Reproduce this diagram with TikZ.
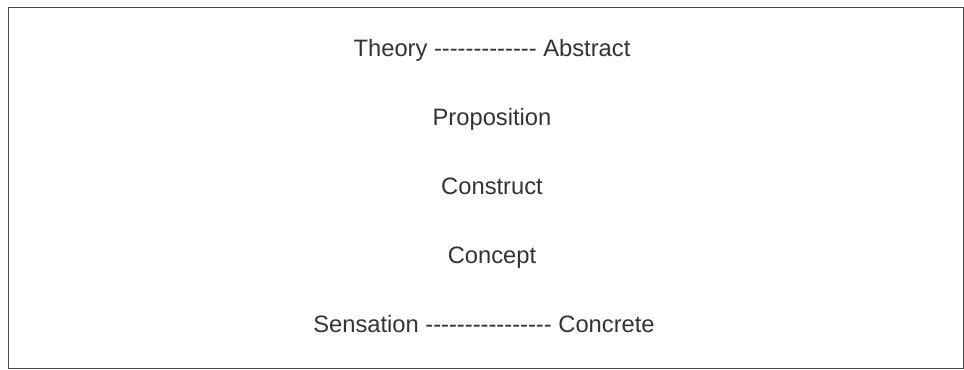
\documentclass[tikz,border=0pt]{standalone}
\usepackage{fontspec}
\setmainfont{Liberation Sans}
\usetikzlibrary{positioning}
% a run of single hyphens, kept apart so they form no ligature
\newcommand{\dashrun}[1]{\foreach \i in {1,...,#1}{-}}

\begin{document}
\begin{tikzpicture}[node distance=0.91cm,
  lbl/.style={inner sep=0pt, text height=10pt, text depth=3pt, font=\fontsize{13.5}{16}\selectfont, text=black!80},
  frame/.style={draw=black!70, line width=1.1pt}]
\useasboundingbox (0,0) rectangle (19.28,-7.4);
\draw[frame] (0.17,-0.15) rectangle (19.27,-7.37);
\node[lbl] (theory) at (9.84,-1.0) {Theory \dashrun{13} Abstract};
\node[lbl, below=of theory] (prop) {Proposition};
\node[lbl, below=of prop] (constr) {Construct};
\node[lbl, below=of constr] (concept) {Concept};
\node[lbl, below=of concept, xshift=-0.16cm] (sens) {Sensation \dashrun{16} Concrete};
\end{tikzpicture}
\end{document}
